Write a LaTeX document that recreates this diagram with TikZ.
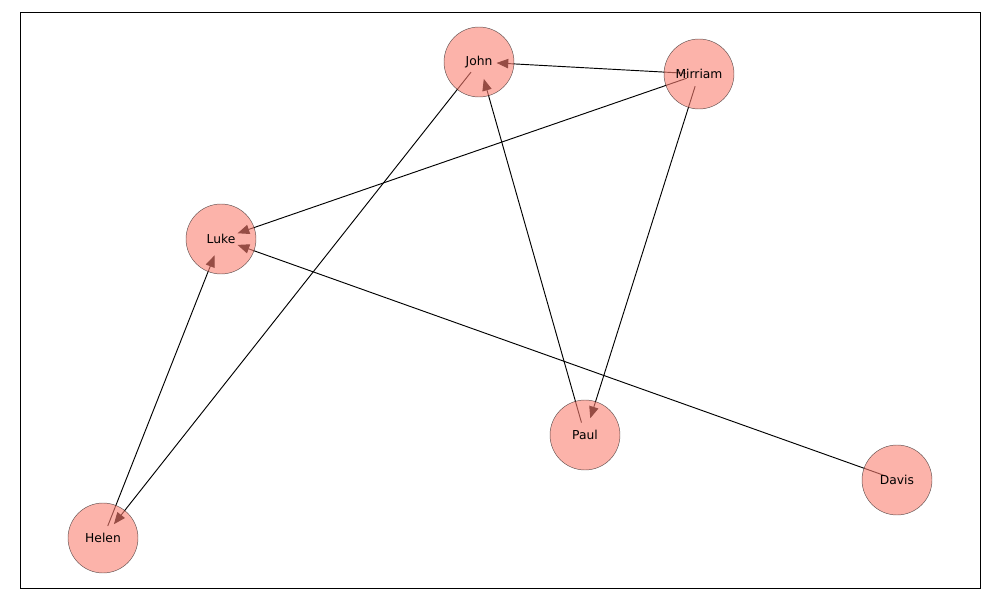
\documentclass[tikz,border=0pt]{standalone}
\usepackage{fontspec}
\setmainfont{DejaVu Sans}
\usetikzlibrary{arrows.meta}
\begin{document}
\begin{tikzpicture}[x=0.03cm,y=-0.03cm,
  vert/.style={circle,minimum size=2.1cm,inner sep=0pt,fill={rgb,255:red,250;green,128;blue,114},fill opacity=0.6,draw=black,draw opacity=0.6,text opacity=1,font=\fontsize{10.5}{12}\selectfont},
  edge/.style={-{Triangle[length=10pt,width=8pt]},shorten <=11pt,shorten >=15pt,line width=0.8pt}]
\useasboundingbox (0,0) rectangle (1000,600);
\draw[line width=0.6pt] (20,12) rectangle (980,588);
\foreach \n/\x/\y in {John/479/62,Mirriam/699/74,Luke/221/239,Paul/585/435,Davis/897/480,Helen/103/538}
  \coordinate (c\n) at (\x,\y);
\draw[edge] (cMirriam) -- (cJohn);
\draw[edge] (cJohn) -- (cHelen);
\draw[edge] (cMirriam) -- (cLuke);
\draw[edge] (cMirriam) -- (cPaul);
\draw[edge] (cPaul) -- (cJohn);
\draw[edge] (cHelen) -- (cLuke);
\draw[edge] (cDavis) -- (cLuke);
\foreach \n in {John,Mirriam,Luke,Paul,Davis,Helen}
  \node[vert] (\n) at (c\n) {\n};
\end{tikzpicture}
\end{document}
